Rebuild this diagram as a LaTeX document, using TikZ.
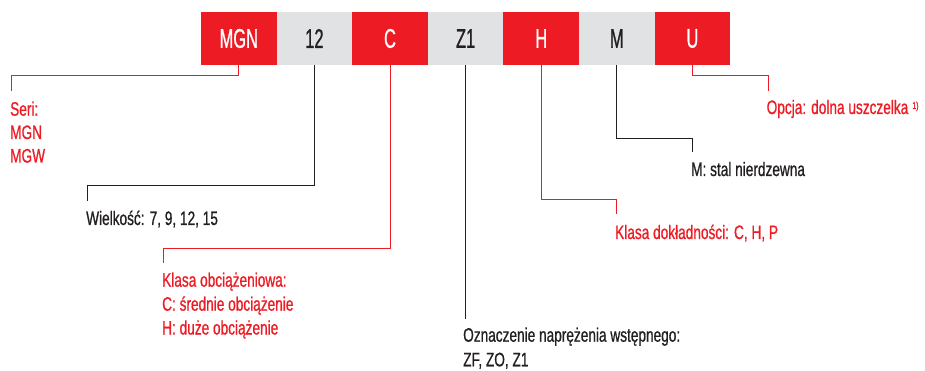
\documentclass[tikz,border=0pt]{standalone}
\usepackage{fontspec}
\setmainfont{Liberation Sans}
\newfontfamily\lblfont[FakeStretch=0.70,FakeBold=0.8]{Liberation Sans}
\newfontfamily\boxfont[FakeStretch=0.61,FakeBold=0.8]{Liberation Sans}
\usetikzlibrary{calc}
\definecolor{hred}{HTML}{ED1C24}
\definecolor{hgrey}{HTML}{E1E2E4}
\definecolor{hdark}{HTML}{231F20}
\begin{document}
\begin{tikzpicture}[x=1pt,y=-1pt,
 codebox/.style={minimum width=75.6pt,minimum height=53pt,inner sep=0pt,outer sep=0pt,anchor=north west,font=\boxfont\fontsize{27}{27}\selectfont},
 redbox/.style={codebox,fill=hred,text=white},
 greybox/.style={codebox,fill=hgrey,text=hdark},
 lbl/.style={anchor=base west,inner sep=0pt,font=\lblfont\fontsize{19.5}{23}\selectfont},
 redlbl/.style={lbl,text=hred},
 darklbl/.style={lbl,text=hdark},
 redline/.style={draw=hred,line width=1pt},
 darkline/.style={draw=hdark,line width=1pt}]
\useasboundingbox (0,0) rectangle (925,371);
% code boxes
\node[redbox]  (mgn) at (201,12)   {MGN};
\node[greybox] (sz)  at (276.6,12) {12};
\node[redbox]  (cl)  at (352.2,12) {C};
\node[greybox] (z1)  at (427.8,12) {Z1};
\node[redbox]  (hc)  at (503.4,12) {H};
\node[greybox] (mm)  at (579,12)   {M};
\node[redbox]  (uu)  at (654.6,12) {U};
% labels
\node[redlbl] (seri)  at (10,115.7) {Seri:};
\node[redlbl] (seriA) at (10,139)   {MGN};
\node[redlbl] (seriB) at (10,162.5) {MGW};
\node[darklbl] (size) at (86,225) {Wielkość: 7, 9, 12, 15};
\node[redlbl] (load)  at (162,286.7) {Klasa obciążeniowa:};
\node[redlbl] (loadA) at (162,310.7) {C: średnie obciążenie};
\node[redlbl] (loadB) at (162,334.5) {H: duże obciążenie};
\node[darklbl] (pre)  at (463,341.7) {Oznaczenie naprężenia wstępnego:};
\node[darklbl] (preA) at (463,366.3) {ZF, ZO, Z1};
\node[redlbl] (acc) at (615,239) {Klasa dokładności: C, H, P};
\node[darklbl] (mat) at (691,176) {M: stal nierdzewna};
\node[redlbl] (opt) at (766.5,114) {Opcja: dolna uszczelka\hspace{4pt}\raisebox{5pt}{\fontsize{10}{10}\selectfont 1)}};
% connectors
\draw[redline] (mgn.south) |- ($(seri.base west)+(1.7,-40)$) -- ($(seri.base west)+(1.7,-25)$);
\draw[darkline] (sz.south) |- ($(size.base west)+(1,-39)$) -- ($(size.base west)+(1,-24.3)$);
\draw[redline] (cl.south) |- ($(load.base west)+(1.3,-38.4)$) -- ($(load.base west)+(1.3,-24)$);
\draw[darkline] (z1.south) -- ($(z1.south |- pre.base)+(0,-22.7)$);
\draw[redline] (hc.south) |- ($(acc.base west)+(1.3,-39)$) -- ($(acc.base west)+(1.3,-25)$);
\draw[darkline] (mm.south) |- ($(mat.base west)+(1.3,-37.7)$) -- ($(mat.base west)+(1.3,-23.7)$);
\draw[redline] (uu.south) |- ($(opt.base west)+(1.8,-38)$) -- ($(opt.base west)+(1.8,-23.3)$);
\end{tikzpicture}
\end{document}
